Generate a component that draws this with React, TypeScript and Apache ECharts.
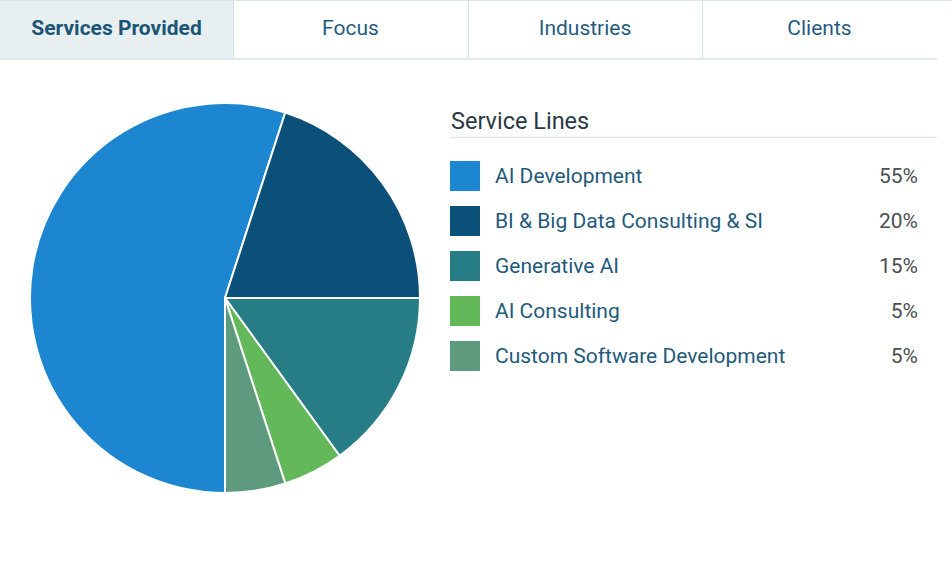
import React, { useEffect, useRef } from "react";
import * as echarts from "echarts";

const tabs = ["Services Provided", "Focus", "Industries", "Clients"];
const legendTitle = "Service Lines";
const categories = [
  "AI Development",
  "BI & Big Data Consulting & SI",
  "Generative AI",
  "AI Consulting",
  "Custom Software Development",
];
const values = [55, 20, 15, 5, 5];
const colors = ["#1d86d0", "#0b5079", "#277d86", "#63b95a", "#5e9a7e"];

export default function App() {
  const ref = useRef<HTMLDivElement>(null);
  useEffect(() => {
    document.body.style.margin = "0";
    const chart = echarts.init(ref.current!, null, { renderer: "svg" });
    const total = values.reduce((a, b) => a + b, 0);
    const tabW = [0, 233, 468, 702, 937];
    const tabGraphics: any[] = [];
    tabGraphics.push({
      type: "rect",
      shape: { x: 0, y: 0, width: 233, height: 58 },
      style: { fill: "#e8eff1" },
      silent: true,
    });
    tabGraphics.push({
      type: "line",
      shape: { x1: 0, y1: 0.5, x2: 952, y2: 0.5 },
      style: { stroke: "#dde3e6", lineWidth: 1 },
      silent: true,
    });
    tabGraphics.push({
      type: "line",
      shape: { x1: 0, y1: 59, x2: 937, y2: 59 },
      style: { stroke: "#dfeaf0", lineWidth: 2 },
      silent: true,
    });
    for (let i = 1; i < 4; i++) {
      tabGraphics.push({
        type: "line",
        shape: { x1: tabW[i] + 0.5, y1: 0, x2: tabW[i] + 0.5, y2: 58 },
        style: { stroke: "#d3e2e9", lineWidth: 1 },
        silent: true,
      });
    }
    tabs.forEach((t, i) => {
      tabGraphics.push({
        type: "text",
        x: (tabW[i] + tabW[i + 1]) / 2,
        y: 28,
        style: {
          text: t,
          fontFamily: "Roboto",
          fontSize: 21,
          fontWeight: i === 0 ? "bold" : "normal",
          fill: i === 0 ? "#1a5576" : "#1f5d7f",
          align: "center",
          verticalAlign: "middle",
        },
        silent: true,
      });
    });
    tabGraphics.push({
      type: "line",
      shape: { x1: 450, y1: 137.5, x2: 937, y2: 137.5 },
      style: { stroke: "#dde8ee", lineWidth: 1.5 },
      silent: true,
    });

    chart.setOption({
      animation: false,
      color: colors,
      title: {
        text: legendTitle,
        left: 446,
        top: 104,
        textStyle: {
          fontFamily: "Roboto",
          fontSize: 23.5,
          fontWeight: "normal",
          color: "#2a3942",
        },
      },
      legend: {
        orient: "vertical",
        left: 445,
        top: 156,
        itemWidth: 30,
        itemHeight: 30,
        itemGap: 15,
        icon: "rect",
        selectedMode: false,
        data: categories,
        itemStyle: { borderWidth: 0 },
        formatter: (name: string) => {
          const idx = categories.indexOf(name);
          const pct = Math.round((values[idx] / total) * 100);
          return `{n|${name}}{p|${pct}%}`;
        },
        textStyle: {
          fontFamily: "Roboto",
          rich: {
            n: {
              fontFamily: "Roboto",
              fontSize: 21,
              lineHeight: 24,
              color: "#1f5a7c",
              width: 363,
              padding: [0, 0, 0, 10],
              align: "left",
            },
            p: {
              fontFamily: "Roboto",
              fontSize: 21,
              lineHeight: 24,
              color: "#4a4f52",
              width: 60,
              align: "right",
            },
          },
        },
      },
      graphic: tabGraphics,
      series: [
        {
          type: "pie",
          center: [225, 298],
          radius: 195,
          startAngle: 270,
          clockwise: true,
          label: { show: false },
          labelLine: { show: false },
          emphasis: { disabled: true },
          itemStyle: { borderColor: "#ffffff", borderWidth: 2 },
          data: categories.map((c, i) => ({ name: c, value: values[i] })),
        },
      ],
    });
    return () => chart.dispose();
  }, []);
  return <div ref={ref} style={{ width: 952, height: 571 }} />;
}
